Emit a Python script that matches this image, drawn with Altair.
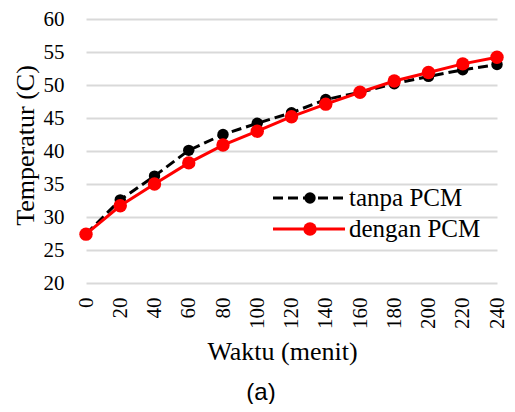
import altair as alt
import pandas as pd

# ---- data ----
waktu = [0, 20, 40, 60, 80, 100, 120, 140, 160, 180, 200, 220, 240]
tanpa_pcm = [27.4, 32.6, 36.2, 40.1, 42.5, 44.2, 45.8, 47.8, 48.9, 50.2, 51.3, 52.3, 53.1]
dengan_pcm = [27.4, 31.7, 35.0, 38.2, 40.9, 43.0, 45.2, 47.1, 48.9, 50.6, 51.9, 53.2, 54.2]
series_names = ["tanpa PCM", "dengan PCM"]
y_ticks = [20, 25, 30, 35, 40, 45, 50, 55, 60]
x_title = "Waktu (menit)"
y_title = "Temperatur (C)"
caption = "(a)"

SERIF = "Liberation Serif"
SANS = "Liberation Sans"

df_all = pd.concat([
    pd.DataFrame({"waktu": waktu, "temp": tanpa_pcm, "seri": series_names[0]}),
    pd.DataFrame({"waktu": waktu, "temp": dengan_pcm, "seri": series_names[1]}),
], ignore_index=True)

x_enc = alt.X(
    "waktu:Q",
    scale=alt.Scale(domain=[0, 240], nice=False, zero=False),
    axis=alt.Axis(
        values=waktu, labelAngle=270, grid=False, domain=False, ticks=False,
        labelFont=SERIF, labelFontSize=21, labelColor="#000000", labelPadding=14,
        labelFlush=False, labelOverlap=False, labelBound=False,
        title=x_title, titleFont=SERIF, titleFontSize=26, titleFontWeight="normal",
        titleColor="#000000", titlePadding=10, titleX=196,
    ),
)
y_enc = alt.Y(
    "temp:Q",
    scale=alt.Scale(domain=[20, 60], nice=False, zero=False),
    axis=alt.Axis(
        values=y_ticks, grid=True, gridColor="#d9d9d9", gridWidth=2,
        domain=False, ticks=False, labelOverlap=False, labelFlush=False,
        labelFont=SERIF, labelFontSize=21, labelColor="#000000", labelPadding=22,
        title=y_title, titleFont=SERIF, titleFontSize=26, titleFontWeight="normal",
        titleColor="#000000", titlePadding=5, titleY=126,
    ),
)

base = alt.Chart(df_all).encode(x=x_enc, y=y_enc)
f_tanpa = alt.datum.seri == series_names[0]
f_dengan = alt.datum.seri == series_names[1]

line_tanpa = base.transform_filter(f_tanpa).mark_line(
    color="#000000", strokeWidth=3, strokeDash=[10, 5])
pts_tanpa = base.transform_filter(f_tanpa).mark_point(
    filled=True, color="#000000", size=130, opacity=1)
line_dengan = base.transform_filter(f_dengan).mark_line(
    color="#ff0000", strokeWidth=3)
pts_dengan = base.transform_filter(f_dengan).mark_point(
    filled=True, color="#ff0000", size=180, opacity=1)

# ---- manual legend ----
leg1 = pd.DataFrame({"seri": [series_names[0]]})
leg2 = pd.DataFrame({"seri": [series_names[1]]})
ly1, ly2 = 179, 210
lx0, lx1, lxm, lxt = 187, 259, 224, 263

leg_line1 = alt.Chart(leg1).mark_rule(color="#000000", strokeWidth=3, strokeDash=[10, 5]).encode(
    x=alt.value(lx0), x2=alt.value(lx1), y=alt.value(ly1))
leg_pt1 = alt.Chart(leg1).mark_point(filled=True, color="#000000", size=130, opacity=1).encode(
    x=alt.value(lxm), y=alt.value(ly1))
leg_txt1 = alt.Chart(leg1).mark_text(font=SERIF, fontSize=25, align="left", baseline="middle", color="#000000").encode(
    x=alt.value(lxt), y=alt.value(ly1), text="seri:N")

leg_line2 = alt.Chart(leg2).mark_rule(color="#ff0000", strokeWidth=3).encode(
    x=alt.value(lx0), x2=alt.value(lx1), y=alt.value(ly2))
leg_pt2 = alt.Chart(leg2).mark_point(filled=True, color="#ff0000", size=180, opacity=1).encode(
    x=alt.value(lxm), y=alt.value(ly2))
leg_txt2 = alt.Chart(leg2).mark_text(font=SERIF, fontSize=25, align="left", baseline="middle", color="#000000").encode(
    x=alt.value(lxt), y=alt.value(ly2), text="seri:N")

cap = alt.Chart(pd.DataFrame({"t": [caption]})).mark_text(
    font=SANS, fontSize=24, align="center", baseline="alphabetic", color="#000000"
).encode(x=alt.value(175), y=alt.value(381), text="t:N")

chart = alt.layer(
    line_tanpa, pts_tanpa, line_dengan, pts_dengan,
    leg_line1, leg_pt1, leg_txt1, leg_line2, leg_pt2, leg_txt2, cap,
).properties(
    width=411, height=264,
    autosize=alt.AutoSizeParams(type="none"),
    padding={"left": 78, "top": 11, "right": 10, "bottom": 121},
    background="#ffffff",
).configure_view(stroke=None)

chart.save("out.html", embed_options={"renderer": "svg", "actions": False})
